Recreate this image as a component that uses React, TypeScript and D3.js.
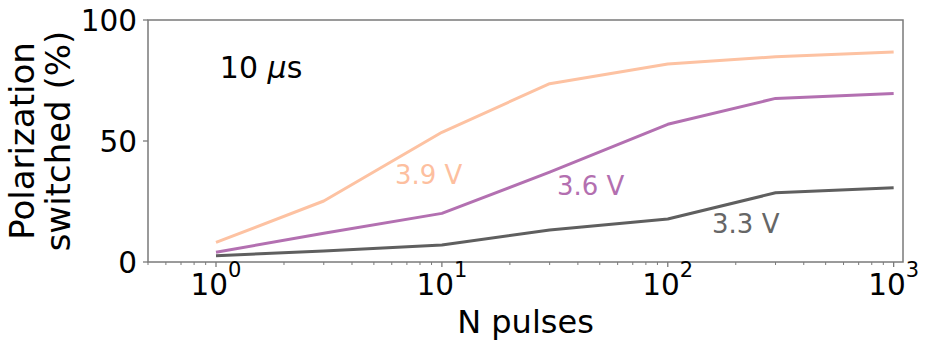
import { useRef, useEffect } from "react"
import * as d3 from "d3"

// N pulses (x) and % polarization switched for each voltage
const pulses = [1, 3, 10, 30, 100, 300, 1000]
const v39 = [8.1, 25.2, 53.6, 73.7, 81.8, 84.8, 86.8]
const v36 = [4.0, 11.9, 20.1, 37.1, 56.9, 67.6, 69.6]
const v33 = [2.6, 4.5, 7.0, 13.2, 17.8, 28.6, 30.7]

const seriesNames = ["3.9 V", "3.6 V", "3.3 V"]
const seriesColors = ["#fdc2a2", "#b370b1", "#5f5f5f"]
const labelColors = ["#fdbf9f", "#b36fb0", "#666666"]

const xTickExps = [0, 1, 2, 3]
const yTicks = [0, 50, 100]

const App = () => {
  const svgRef = useRef<SVGSVGElement>(null)

  useEffect(() => {
    const root = d3.select(svgRef.current)
    root.selectAll("*").remove()

    const W = 929
    const H = 348
    const left = 148
    const right = 903
    const top = 20
    const bottom = 262
    const font = "'DejaVu Sans', sans-serif"

    root.attr("width", W).attr("height", H)

    const x = d3.scaleLog().domain([0.5, 1100]).range([left, right])
    const y = d3.scaleLinear().domain([0, 100]).range([bottom, top])

    // Lines
    const line = d3
      .line<[number, number]>()
      .x((d) => x(d[0]))
      .y((d) => y(d[1]))

    const allSeries = [v39, v36, v33]
    allSeries.forEach((vals, i) => {
      const pts = pulses.map((p, j) => [p, vals[j]] as [number, number])
      root
        .append("path")
        .datum(pts)
        .attr("fill", "none")
        .attr("stroke", seriesColors[i])
        .attr("stroke-width", 3)
        .attr("stroke-linejoin", "round")
        .attr("d", line)
    })

    // Series labels (data coords)
    const labelPos = [
      [6.2, 32.2],
      [32.3, 27.7],
      [157, 12.1],
    ]
    seriesNames.forEach((name, i) => {
      root
        .append("text")
        .attr("x", x(labelPos[i][0]))
        .attr("y", y(labelPos[i][1]))
        .attr("font-family", font)
        .attr("font-size", 26)
        .attr("fill", labelColors[i])
        .text(name)
    })

    // Pulse width annotation
    const ann = root
      .append("text")
      .attr("x", x(1.04))
      .attr("y", y(76.2))
      .attr("font-family", font)
      .attr("font-size", 30)
      .attr("fill", "#000")
    ann.append("tspan").text("10 ")
    ann.append("tspan").attr("font-style", "italic").text("\u03bc")
    ann.append("tspan").text("s")

    // Frame
    root
      .append("rect")
      .attr("x", left)
      .attr("y", top)
      .attr("width", right - left)
      .attr("height", bottom - top)
      .attr("fill", "none")
      .attr("stroke", "#7a7a7a")
      .attr("stroke-width", 1.5)

    // X ticks, major and minor
    const minor: number[] = []
    for (let e = -1; e <= 3; e++) {
      for (let m = 2; m <= 9; m++) {
        const v = m * Math.pow(10, e)
        if (v >= 0.5 && v <= 1100) minor.push(v)
      }
    }
    root
      .append("g")
      .selectAll("line")
      .data(minor)
      .enter()
      .append("line")
      .attr("x1", (d) => x(d))
      .attr("x2", (d) => x(d))
      .attr("y1", bottom)
      .attr("y2", bottom + 3)
      .attr("stroke", "#7a7a7a")
      .attr("stroke-width", 1)

    xTickExps.forEach((e) => {
      const px = x(Math.pow(10, e))
      root
        .append("line")
        .attr("x1", px)
        .attr("x2", px)
        .attr("y1", bottom)
        .attr("y2", bottom + 5)
        .attr("stroke", "#7a7a7a")
        .attr("stroke-width", 1.3)
      const t = root
        .append("text")
        .attr("x", px)
        .attr("y", bottom + 33)
        .attr("text-anchor", "middle")
        .attr("font-family", font)
        .attr("font-size", 29.5)
        .attr("fill", "#000")
      t.append("tspan").text("10")
      t.append("tspan").attr("dy", -18).attr("font-size", 21).text(String(e))
    })

    // Y ticks
    yTicks.forEach((v) => {
      const py = y(v)
      root
        .append("line")
        .attr("x1", left - 5)
        .attr("x2", left)
        .attr("y1", py)
        .attr("y2", py)
        .attr("stroke", "#7a7a7a")
        .attr("stroke-width", 1.3)
      root
        .append("text")
        .attr("x", left - 11)
        .attr("y", py + 11)
        .attr("text-anchor", "end")
        .attr("font-family", font)
        .attr("font-size", 29.5)
        .attr("fill", "#000")
        .text(String(v))
    })

    // Axis labels
    root
      .append("text")
      .attr("x", (left + right) / 2)
      .attr("y", 333)
      .attr("text-anchor", "middle")
      .attr("font-family", font)
      .attr("font-size", 32)
      .attr("fill", "#000")
      .text("N pulses")

    const midY = (top + bottom) / 2
    ;["Polarization", "switched (%)"].forEach((s, i) => {
      const bx = i === 0 ? 34 : 70
      root
        .append("text")
        .attr("transform", `translate(${bx},${midY}) rotate(-90)`)
        .attr("text-anchor", "middle")
        .attr("font-family", font)
        .attr("font-size", 34)
        .attr("fill", "#000")
        .text(s)
    })
  }, [])

  return (
    <div style={{ position: "absolute", left: 0, top: 0 }}>
      <svg ref={svgRef}></svg>
    </div>
  )
}

export default App
